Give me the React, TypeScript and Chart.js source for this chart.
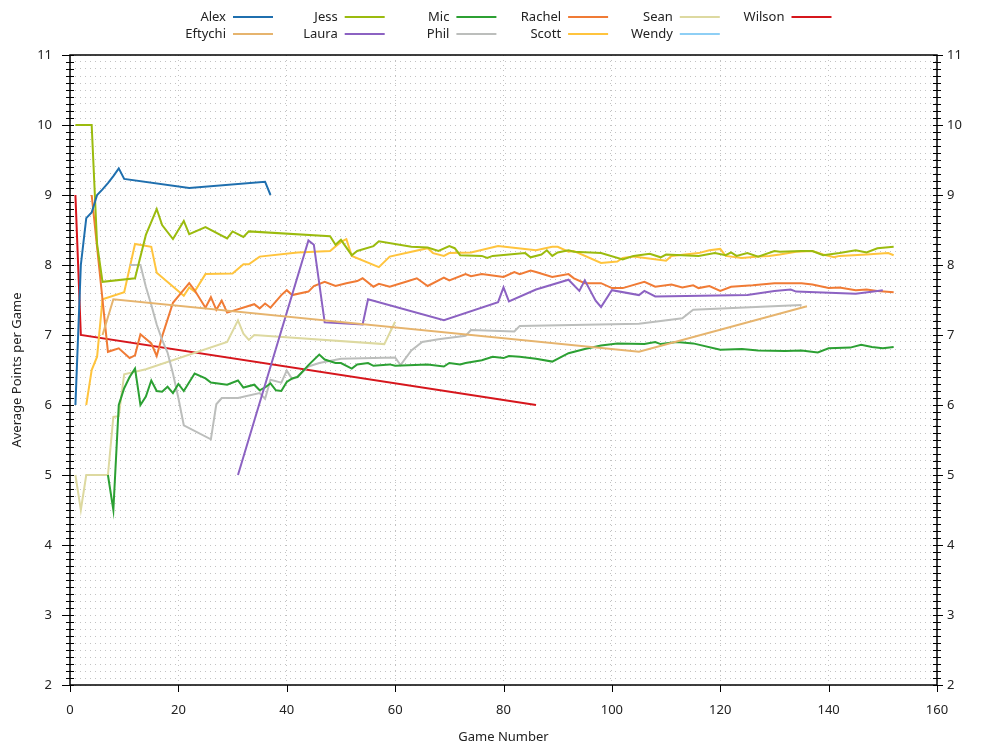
import React, { useEffect, useRef } from 'react';
import { Chart, registerables } from 'chart.js';

Chart.register(...registerables);

const names = ['Alex', 'Eftychi', 'Jess', 'Laura', 'Mic', 'Phil', 'Rachel', 'Scott', 'Sean', 'Wendy', 'Wilson'];
const colors = ['#1f6fae', '#e6b46e', '#9bbb0e', '#8c62c2', '#2ca033', '#bcbebc', '#f07b35', '#ffc43d', '#ddd9a0', '#8ecff5', '#d6161c'];

const alexGames = [1, 2, 3, 4, 5, 6, 7, 8, 9, 10, 22, 36, 37];
const alexAvg = [6.0, 8.0, 8.67, 8.75, 9.0, 9.08, 9.17, 9.27, 9.38, 9.23, 9.1, 9.19, 9.0];

const eftychiGames = [6, 8, 105, 136];
const eftychiAvg = [7.0, 7.51, 6.76, 7.41];

const jessGames = [1, 2, 3, 4, 5, 6, 12, 14, 16, 17, 19, 21, 22, 25, 29, 30, 32, 33, 48, 49, 50, 52, 53, 56, 57, 63, 66, 68, 70, 71, 72, 76, 77, 78, 84, 85, 87, 88, 89, 90, 92, 93, 98, 102, 104, 107, 109, 110, 116, 119, 121, 122, 123, 125, 127, 130, 131, 135, 137, 139, 142, 145, 147, 149, 152];
const jessAvg = [10, 10, 10, 10, 8.3, 7.76, 7.81, 8.43, 8.8, 8.57, 8.37, 8.63, 8.44, 8.54, 8.38, 8.48, 8.4, 8.48, 8.41, 8.29, 8.36, 8.14, 8.2, 8.27, 8.34, 8.26, 8.25, 8.2, 8.27, 8.24, 8.14, 8.13, 8.1, 8.13, 8.17, 8.11, 8.15, 8.21, 8.13, 8.18, 8.21, 8.19, 8.17, 8.08, 8.13, 8.16, 8.11, 8.15, 8.13, 8.17, 8.14, 8.18, 8.13, 8.17, 8.12, 8.2, 8.19, 8.2, 8.2, 8.14, 8.17, 8.21, 8.18, 8.24, 8.26];

const lauraGames = [31, 44, 45, 47, 54, 55, 69, 79, 80, 81, 86, 92, 94, 95, 97, 98, 100, 105, 106, 108, 125, 130, 133, 134, 145, 149, 150];
const lauraAvg = [5.0, 8.35, 8.29, 7.18, 7.15, 7.51, 7.21, 7.47, 7.68, 7.48, 7.65, 7.79, 7.63, 7.78, 7.49, 7.4, 7.64, 7.57, 7.63, 7.55, 7.57, 7.63, 7.65, 7.62, 7.59, 7.63, 7.64];

const micGames = [7, 8, 9, 10, 11, 12, 13, 14, 15, 16, 17, 18, 19, 20, 21, 23, 25, 26, 29, 31, 32, 34, 35, 36, 37, 38, 39, 40, 41, 42, 44, 46, 47, 49, 50, 52, 53, 55, 56, 59, 60, 66, 69, 70, 72, 73, 76, 78, 80, 81, 83, 86, 89, 92, 95, 98, 101, 106, 108, 109, 112, 115, 120, 124, 127, 132, 135, 138, 140, 144, 146, 148, 150, 152];
const micAvg = [5.0, 4.5, 6.0, 6.24, 6.4, 6.52, 6.0, 6.12, 6.35, 6.2, 6.19, 6.26, 6.17, 6.3, 6.2, 6.45, 6.38, 6.32, 6.29, 6.35, 6.25, 6.29, 6.21, 6.25, 6.31, 6.21, 6.2, 6.33, 6.38, 6.4, 6.57, 6.72, 6.65, 6.6, 6.6, 6.52, 6.58, 6.6, 6.56, 6.58, 6.56, 6.58, 6.55, 6.6, 6.58, 6.6, 6.64, 6.69, 6.67, 6.7, 6.69, 6.66, 6.62, 6.74, 6.8, 6.85, 6.88, 6.87, 6.9, 6.87, 6.9, 6.88, 6.79, 6.8, 6.78, 6.77, 6.78, 6.75, 6.81, 6.82, 6.86, 6.83, 6.81, 6.83];

const philGames = [11, 13, 14, 15, 16, 17, 18, 19, 20, 21, 26, 27, 28, 31, 35, 36, 37, 39, 40, 41, 42, 44, 46, 50, 60, 61, 63, 65, 68, 73, 74, 82, 83, 105, 113, 115, 135];
const philAvg = [8.0, 8.0, 7.69, 7.43, 7.15, 6.93, 6.75, 6.45, 6.1, 5.71, 5.51, 6.01, 6.1, 6.1, 6.17, 6.09, 6.36, 6.32, 6.49, 6.37, 6.41, 6.55, 6.6, 6.66, 6.68, 6.57, 6.78, 6.9, 6.94, 6.99, 7.07, 7.05, 7.13, 7.16, 7.24, 7.36, 7.43];

const rachelGames = [4, 7, 9, 11, 12, 13, 15, 16, 17, 19, 22, 23, 25, 26, 27, 28, 29, 34, 35, 36, 37, 39, 40, 41, 44, 45, 47, 49, 51, 53, 54, 56, 57, 59, 62, 64, 66, 69, 70, 73, 74, 76, 78, 80, 82, 83, 85, 86, 89, 92, 93, 95, 98, 100, 102, 106, 108, 111, 113, 115, 116, 118, 120, 122, 126, 130, 135, 137, 140, 142, 145, 147, 149, 152];
const rachelAvg = [9.0, 6.76, 6.81, 6.67, 6.71, 7.01, 6.88, 6.7, 6.98, 7.46, 7.74, 7.64, 7.39, 7.54, 7.36, 7.49, 7.32, 7.44, 7.38, 7.45, 7.39, 7.57, 7.64, 7.57, 7.62, 7.7, 7.76, 7.7, 7.74, 7.77, 7.81, 7.69, 7.73, 7.69, 7.76, 7.81, 7.7, 7.82, 7.78, 7.87, 7.84, 7.87, 7.85, 7.83, 7.9, 7.87, 7.92, 7.9, 7.83, 7.87, 7.81, 7.74, 7.74, 7.67, 7.67, 7.76, 7.69, 7.72, 7.68, 7.71, 7.67, 7.7, 7.63, 7.69, 7.71, 7.74, 7.74, 7.72, 7.67, 7.68, 7.64, 7.65, 7.63, 7.61];

const scottGames = [3, 4, 5, 6, 10, 12, 15, 16, 21, 22, 23, 25, 30, 32, 33, 35, 42, 48, 50, 51, 52, 57, 59, 66, 67, 69, 70, 74, 79, 86, 89, 90, 92, 93, 98, 101, 102, 104, 110, 111, 116, 118, 120, 121, 124, 127, 129, 131, 134, 137, 139, 141, 142, 147, 151, 152];
const scottAvg = [6.0, 6.5, 6.69, 7.51, 7.61, 8.3, 8.26, 7.89, 7.56, 7.68, 7.62, 7.87, 7.88, 8.01, 8.01, 8.12, 8.18, 8.2, 8.33, 8.37, 8.13, 7.97, 8.12, 8.24, 8.17, 8.13, 8.17, 8.18, 8.27, 8.21, 8.26, 8.26, 8.19, 8.2, 8.03, 8.05, 8.1, 8.12, 8.06, 8.13, 8.17, 8.21, 8.23, 8.13, 8.1, 8.12, 8.13, 8.15, 8.19, 8.2, 8.15, 8.11, 8.13, 8.15, 8.17, 8.14];

const seanGames = [1, 2, 3, 7, 8, 9, 10, 14, 29, 31, 32, 33, 34, 58, 60];
const seanAvg = [5.0, 4.5, 5.0, 5.0, 5.83, 5.84, 6.44, 6.51, 6.9, 7.21, 7.02, 6.93, 7.0, 6.87, 7.19];

const wendyGames: number[] = [];
const wendyAvg: number[] = [];

const wilsonGames = [1, 2, 86];
const wilsonAvg = [9.0, 7.0, 6.0];

const allGames = [alexGames, eftychiGames, jessGames, lauraGames, micGames, philGames, rachelGames, scottGames, seanGames, wendyGames, wilsonGames];
const allAvg = [alexAvg, eftychiAvg, jessAvg, lauraAvg, micAvg, philAvg, rachelAvg, scottAvg, seanAvg, wendyAvg, wilsonAvg];

const xMin = 0;
const xMax = 160;
const xStep = 20;
const yMin = 2;
const yMax = 11;

const FONT = '"Noto Sans", "Open Sans", sans-serif';
const TEXT = '#222222';

const intLabel = (v: number | string) => {
  const n = Number(v);
  return Math.abs(n - Math.round(n)) < 1e-6 ? String(Math.round(n)) : '';
};

const framePlugin = {
  id: 'framePlugin',
  afterDraw(chart: any) {
    const ctx = chart.ctx;
    const { left, right, top, bottom } = chart.chartArea;
    const ys = chart.scales.y;
    const xs = chart.scales.x;
    ctx.save();
    ctx.strokeStyle = '#000';
    ctx.lineWidth = 1;
    // y ticks (left & right)
    for (let i = yMin * 10; i <= yMax * 10; i++) {
      const py = Math.round(ys.getPixelForValue(i / 10)) + 0.5;
      const major = i % 10 === 0;
      ctx.beginPath();
      ctx.moveTo(left - (major ? 8 : 4), py);
      ctx.lineTo(left + 4, py);
      ctx.moveTo(right - 4, py);
      ctx.lineTo(right + (major ? 6 : 4), py);
      ctx.stroke();
    }
    // x ticks
    for (let g = xMin; g <= xMax; g += xStep) {
      const px = Math.round(xs.getPixelForValue(g)) + 0.5;
      ctx.beginPath();
      ctx.moveTo(px, bottom);
      ctx.lineTo(px, bottom + 7);
      ctx.stroke();
    }
    // frame
    ctx.lineWidth = 1.5;
    ctx.strokeRect(left, top, right - left, bottom - top);

    // legend (2 rows, column-major)
    ctx.font = '13px ' + FONT;
    ctx.textBaseline = 'middle';
    ctx.textAlign = 'right';
    names.forEach((n, i) => {
      const col = Math.floor(i / 2);
      const row = i % 2;
      const xr = 226 + col * 111.7;
      const yy = 17 + row * 17;
      ctx.fillStyle = TEXT;
      ctx.fillText(n, xr, yy);
      ctx.strokeStyle = colors[i];
      ctx.lineWidth = 2;
      ctx.beginPath();
      ctx.moveTo(xr + 7, yy);
      ctx.lineTo(xr + 47, yy);
      ctx.stroke();
    });
    ctx.restore();
  },
};

export default function App() {
  const ref = useRef<HTMLCanvasElement>(null);
  useEffect(() => {
    if (!ref.current) return;
    Chart.defaults.font.family = FONT;
    Chart.defaults.font.size = 13;
    Chart.defaults.color = TEXT;
    const datasets = names.map((n, i) => ({
      label: n,
      data: allGames[i].map((g, j) => ({ x: g, y: allAvg[i][j] })),
      borderColor: colors[i],
      backgroundColor: colors[i],
      borderWidth: 2,
      pointRadius: 0,
      tension: 0,
      fill: false,
    }));
    const chart = new Chart(ref.current, {
      type: 'line',
      data: { datasets },
      options: {
        animation: false,
        responsive: true,
        maintainAspectRatio: false,
        layout: { padding: { top: 55, left: 0, right: 0, bottom: 0 } },
        plugins: { legend: { display: false }, tooltip: { enabled: false } },
        scales: {
          x: {
            type: 'linear',
            min: xMin,
            max: xMax,
            ticks: { stepSize: xStep, padding: 17, color: TEXT, maxRotation: 0 },
            grid: { color: '#c2c2c2', drawTicks: false, lineWidth: 1 },
            border: { display: false, dash: [1, 4] },
            title: { display: true, text: 'Game Number', color: TEXT, padding: { top: 0, bottom: 5 } },
            afterFit: (s: any) => { s.height = 65; },
          },
          y: {
            type: 'linear',
            position: 'left',
            min: yMin,
            max: yMax,
            ticks: { stepSize: 0.1, autoSkip: false, padding: 18, color: TEXT, callback: intLabel },
            grid: { color: '#c2c2c2', drawTicks: false, lineWidth: 1 },
            border: { display: false, dash: [1, 4] },
            title: { display: true, text: 'Average Points per Game', color: TEXT, padding: { top: 9, bottom: 0 } },
            afterFit: (s: any) => { s.width = 70; },
          },
          y2: {
            type: 'linear',
            position: 'right',
            min: yMin,
            max: yMax,
            ticks: { stepSize: 0.1, autoSkip: false, padding: 10, color: TEXT, callback: intLabel },
            grid: { display: false, drawTicks: false },
            border: { display: false },
            afterFit: (s: any) => { s.width = 63; },
          },
        },
      } as any,
      plugins: [framePlugin],
    });
    return () => chart.destroy();
  }, []);
  return (
    <div style={{ position: 'absolute', left: 0, top: 0, width: 1000, height: 750 }}>
      <canvas ref={ref} />
    </div>
  );
}
